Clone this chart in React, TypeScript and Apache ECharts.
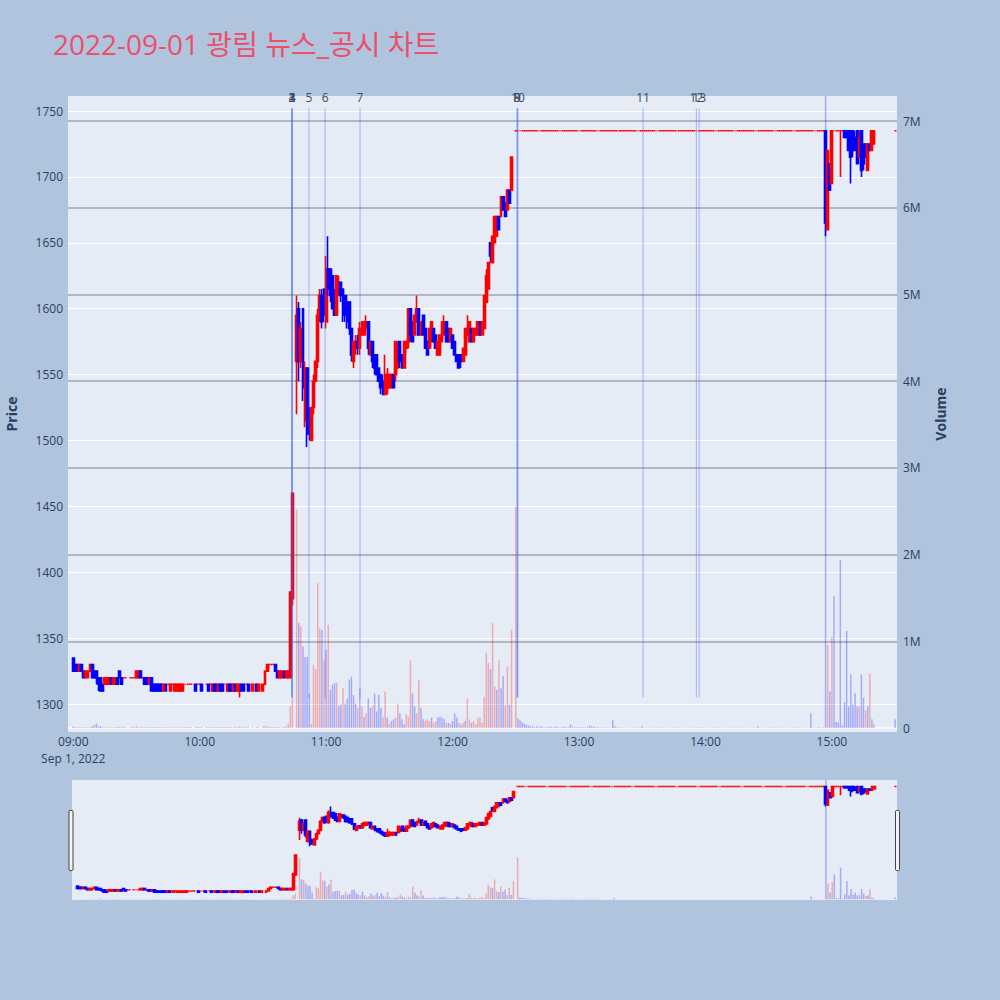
import React, { useEffect, useRef } from "react";
import * as echarts from "echarts";

type Row = [string, number, number, number, number, number, string];
// [time, open, high, low, close, volume (millions of shares), volume colour u/d]

const TITLE = "2022-09-01 광림 뉴스_공시 차트";
const DATE_LABEL = "Sep 1, 2022";
const TIME_TICKS = ["09:00", "10:00", "11:00", "12:00", "13:00", "14:00", "15:00"];
const PRICE_TICKS = [1300, 1350, 1400, 1450, 1500, 1550, 1600, 1650, 1700, 1750];
const VOLUME_TICKS = [0, 1, 2, 3, 4, 5, 6, 7];

const MORNING: Row[] = [
  ["09:00", 1335, 1335, 1325, 1325, 0.02, "d"],
  ["09:01", 1330, 1330, 1325, 1325, 0.01, "d"],
  ["09:02", 1330, 1330, 1325, 1325, 0.01, "d"],
  ["09:03", 1325, 1330, 1325, 1330, 0.01, "u"],
  ["09:04", 1330, 1330, 1325, 1325, 0.01, "d"],
  ["09:05", 1325, 1325, 1320, 1320, 0.01, "d"],
  ["09:06", 1320, 1325, 1320, 1325, 0.01, "u"],
  ["09:07", 1320, 1325, 1320, 1325, 0.01, "u"],
  ["09:08", 1325, 1330, 1325, 1330, 0.01, "u"],
  ["09:09", 1330, 1330, 1320, 1320, 0.02, "d"],
  ["09:10", 1325, 1325, 1320, 1320, 0.03, "d"],
  ["09:11", 1325, 1325, 1315, 1320, 0.05, "d"],
  ["09:12", 1320, 1320, 1310, 1315, 0.02, "d"],
  ["09:13", 1320, 1320, 1310, 1310, 0.02, "d"],
  ["09:14", 1315, 1315, 1310, 1310, 0.01, "d"],
  ["09:15", 1315, 1320, 1315, 1320, 0.01, "u"],
  ["09:16", 1315, 1320, 1315, 1320, 0.01, "u"],
  ["09:17", 1315, 1320, 1315, 1320, 0.01, "u"],
  ["09:18", 1320, 1320, 1315, 1315, 0.01, "d"],
  ["09:19", 1315, 1320, 1315, 1320, 0.01, "u"],
  ["09:20", 1315, 1320, 1315, 1320, 0.01, "u"],
  ["09:21", 1320, 1320, 1315, 1315, 0.01, "d"],
  ["09:22", 1325, 1325, 1320, 1320, 0.01, "d"],
  ["09:23", 1320, 1320, 1315, 1315, 0.01, "d"],
  ["09:24", 1320, 1320, 1320, 1320, 0.01, "d"],
  ["09:25", 1320, 1320, 1320, 1320, 0.01, "d"],
  ["09:27", 1320, 1320, 1320, 1320, 0.01, "d"],
  ["09:28", 1320, 1320, 1320, 1320, 0.01, "d"],
  ["09:29", 1320, 1320, 1320, 1320, 0.01, "d"],
  ["09:30", 1320, 1325, 1320, 1325, 0.02, "u"],
  ["09:31", 1320, 1325, 1320, 1325, 0.01, "u"],
  ["09:32", 1325, 1325, 1320, 1320, 0.01, "d"],
  ["09:33", 1320, 1320, 1320, 1320, 0.01, "d"],
  ["09:34", 1320, 1320, 1315, 1315, 0.01, "d"],
  ["09:35", 1320, 1320, 1315, 1315, 0.01, "d"],
  ["09:36", 1315, 1320, 1315, 1320, 0.01, "u"],
  ["09:37", 1320, 1320, 1310, 1310, 0.01, "d"],
  ["09:38", 1315, 1315, 1310, 1310, 0.01, "d"],
  ["09:39", 1315, 1315, 1310, 1310, 0.01, "d"],
  ["09:40", 1315, 1315, 1310, 1310, 0.01, "d"],
  ["09:41", 1315, 1315, 1310, 1310, 0.01, "d"],
  ["09:42", 1315, 1315, 1310, 1310, 0.01, "d"],
  ["09:43", 1310, 1315, 1310, 1315, 0.01, "u"],
  ["09:44", 1315, 1315, 1310, 1310, 0.01, "d"],
  ["09:45", 1315, 1315, 1315, 1315, 0.01, "d"],
  ["09:46", 1310, 1315, 1310, 1315, 0.01, "u"],
  ["09:47", 1315, 1315, 1315, 1315, 0.01, "u"],
  ["09:48", 1310, 1315, 1310, 1315, 0.01, "u"],
  ["09:49", 1310, 1315, 1310, 1315, 0.01, "u"],
  ["09:50", 1310, 1315, 1310, 1315, 0.01, "u"],
  ["09:51", 1310, 1315, 1310, 1315, 0.01, "u"],
  ["09:52", 1310, 1315, 1310, 1315, 0.01, "u"],
  ["09:53", 1315, 1315, 1315, 1315, 0.01, "d"],
  ["09:54", 1315, 1315, 1315, 1315, 0.01, "d"],
  ["09:55", 1315, 1315, 1315, 1315, 0.01, "d"],
  ["09:56", 1315, 1315, 1315, 1315, 0.01, "d"],
  ["09:58", 1315, 1315, 1310, 1310, 0.01, "d"],
  ["09:59", 1315, 1315, 1315, 1315, 0.01, "d"],
  ["10:00", 1315, 1315, 1315, 1315, 0.01, "d"],
  ["10:01", 1315, 1315, 1310, 1310, 0.01, "d"],
  ["10:03", 1315, 1315, 1315, 1315, 0.01, "d"],
  ["10:04", 1315, 1315, 1310, 1310, 0.01, "d"],
  ["10:05", 1315, 1315, 1315, 1315, 0.01, "d"],
  ["10:06", 1310, 1315, 1310, 1315, 0.01, "u"],
  ["10:07", 1315, 1315, 1310, 1310, 0.01, "d"],
  ["10:08", 1315, 1315, 1310, 1310, 0.01, "d"],
  ["10:09", 1310, 1315, 1310, 1315, 0.01, "u"],
  ["10:10", 1315, 1315, 1310, 1310, 0.01, "d"],
  ["10:11", 1315, 1315, 1310, 1310, 0.01, "d"],
  ["10:12", 1315, 1315, 1315, 1315, 0.01, "d"],
  ["10:13", 1310, 1315, 1310, 1315, 0.01, "u"],
  ["10:14", 1315, 1315, 1310, 1310, 0.01, "d"],
  ["10:15", 1315, 1315, 1310, 1310, 0.01, "d"],
  ["10:16", 1310, 1315, 1310, 1315, 0.01, "u"],
  ["10:17", 1315, 1315, 1310, 1310, 0.01, "d"],
  ["10:18", 1310, 1315, 1310, 1315, 0.01, "u"],
  ["10:19", 1310, 1315, 1305, 1315, 0.02, "u"],
  ["10:20", 1315, 1315, 1310, 1310, 0.01, "d"],
  ["10:21", 1315, 1315, 1310, 1310, 0.01, "d"],
  ["10:22", 1315, 1315, 1315, 1315, 0.01, "d"],
  ["10:23", 1315, 1315, 1310, 1310, 0.01, "d"],
  ["10:25", 1310, 1315, 1310, 1315, 0.01, "u"],
  ["10:27", 1315, 1315, 1310, 1310, 0.01, "d"],
  ["10:28", 1310, 1315, 1310, 1315, 0.01, "u"],
  ["10:30", 1310, 1315, 1310, 1315, 0.02, "u"],
  ["10:31", 1315, 1325, 1315, 1325, 0.02, "u"],
  ["10:32", 1325, 1330, 1325, 1330, 0.02, "u"],
  ["10:33", 1330, 1330, 1330, 1330, 0.01, "d"],
  ["10:34", 1330, 1330, 1330, 1330, 0.01, "d"],
  ["10:35", 1330, 1330, 1330, 1330, 0.01, "d"],
  ["10:36", 1330, 1330, 1325, 1325, 0.01, "d"],
  ["10:37", 1325, 1325, 1320, 1320, 0.01, "d"],
  ["10:38", 1320, 1325, 1320, 1325, 0.01, "u"],
  ["10:39", 1320, 1325, 1320, 1325, 0.01, "u"],
  ["10:40", 1325, 1325, 1320, 1320, 0.01, "d"],
  ["10:41", 1320, 1325, 1320, 1325, 0.02, "u"],
];

const SURGE: Row[] = [
  ["10:42", 1320, 1325, 1320, 1325, 0.05, "u"],
  ["10:43", 1320, 1385, 1320, 1385, 0.25, "u"],
  ["10:44", 1380, 1460, 1375, 1460, 0.35, "u"],
  ["10:46", 1560, 1610, 1520, 1595, 2.52, "u"],
  ["10:47", 1600, 1605, 1545, 1560, 1.21, "d"],
  ["10:48", 1560, 1590, 1555, 1585, 1.17, "u"],
  ["10:49", 1600, 1600, 1530, 1540, 0.94, "d"],
  ["10:50", 1515, 1560, 1510, 1555, 0.82, "d"],
  ["10:51", 1555, 1555, 1495, 1505, 0.82, "d"],
  ["10:52", 1520, 1525, 1500, 1505, 0.4, "d"],
  ["10:53", 1500, 1525, 1500, 1525, 0.05, "u"],
  ["10:54", 1525, 1550, 1520, 1545, 0.73, "u"],
  ["10:55", 1545, 1560, 1545, 1560, 0.68, "u"],
  ["10:56", 1560, 1600, 1555, 1595, 1.67, "u"],
  ["10:57", 1595, 1615, 1590, 1610, 1.15, "u"],
  ["10:58", 1610, 1615, 1585, 1590, 1.13, "d"],
  ["10:59", 1615, 1615, 1590, 1595, 0.78, "u"],
  ["11:00", 1590, 1640, 1585, 1630, 0.9, "d"],
  ["11:01", 1630, 1655, 1610, 1615, 1.19, "u"],
  ["11:02", 1630, 1630, 1605, 1610, 0.44, "d"],
  ["11:03", 1625, 1625, 1600, 1600, 0.5, "d"],
  ["11:04", 1610, 1615, 1595, 1595, 0.52, "d"],
  ["11:05", 1595, 1625, 1595, 1625, 0.52, "u"],
  ["11:06", 1615, 1625, 1610, 1620, 0.25, "d"],
  ["11:07", 1620, 1620, 1605, 1610, 0.27, "d"],
  ["11:08", 1615, 1615, 1590, 1595, 0.46, "u"],
  ["11:09", 1610, 1610, 1590, 1595, 0.28, "d"],
  ["11:10", 1605, 1605, 1585, 1590, 0.34, "d"],
  ["11:11", 1605, 1605, 1580, 1585, 0.56, "d"],
  ["11:12", 1585, 1585, 1560, 1565, 0.59, "d"],
  ["11:13", 1560, 1575, 1555, 1575, 0.38, "d"],
  ["11:14", 1570, 1580, 1565, 1575, 0.28, "d"],
  ["11:15", 1575, 1580, 1565, 1570, 0.23, "u"],
  ["11:16", 1570, 1590, 1565, 1585, 0.46, "d"],
  ["11:17", 1580, 1590, 1580, 1590, 0.25, "u"],
  ["11:18", 1580, 1590, 1580, 1590, 0.13, "d"],
  ["11:19", 1585, 1595, 1585, 1590, 0.17, "u"],
  ["11:20", 1590, 1590, 1565, 1570, 0.34, "d"],
  ["11:21", 1565, 1575, 1565, 1575, 0.23, "d"],
  ["11:22", 1575, 1575, 1555, 1560, 0.25, "u"],
  ["11:23", 1565, 1565, 1550, 1555, 0.4, "d"],
  ["11:24", 1565, 1565, 1550, 1550, 0.19, "d"],
  ["11:25", 1555, 1555, 1545, 1545, 0.38, "d"],
  ["11:26", 1550, 1550, 1535, 1540, 0.23, "d"],
  ["11:27", 1545, 1550, 1535, 1535, 0.13, "u"],
  ["11:28", 1535, 1565, 1535, 1550, 0.42, "u"],
  ["11:29", 1540, 1555, 1535, 1550, 0.12, "d"],
  ["11:30", 1540, 1550, 1540, 1550, 0.05, "u"],
  ["11:31", 1540, 1550, 1540, 1550, 0.08, "d"],
  ["11:32", 1550, 1550, 1540, 1540, 0.1, "d"],
  ["11:33", 1550, 1575, 1545, 1575, 0.12, "u"],
  ["11:34", 1555, 1575, 1555, 1570, 0.28, "u"],
  ["11:35", 1575, 1575, 1555, 1560, 0.17, "d"],
  ["11:36", 1565, 1565, 1555, 1555, 0.1, "d"],
  ["11:37", 1555, 1575, 1555, 1575, 0.04, "d"],
  ["11:38", 1570, 1575, 1565, 1575, 0.16, "u"],
  ["11:39", 1575, 1600, 1570, 1600, 0.13, "u"],
  ["11:40", 1600, 1600, 1575, 1580, 0.78, "u"],
  ["11:41", 1590, 1590, 1575, 1575, 0.4, "d"],
  ["11:42", 1580, 1595, 1580, 1595, 0.25, "d"],
  ["11:43", 1590, 1610, 1590, 1600, 0.17, "u"],
  ["11:44", 1600, 1600, 1580, 1580, 0.55, "u"],
  ["11:45", 1580, 1590, 1580, 1590, 0.23, "d"],
  ["11:46", 1595, 1595, 1580, 1580, 0.1, "d"],
  ["11:47", 1585, 1585, 1570, 1570, 0.08, "u"],
  ["11:48", 1575, 1575, 1565, 1565, 0.1, "u"],
  ["11:49", 1570, 1585, 1570, 1585, 0.08, "u"],
  ["11:50", 1575, 1590, 1575, 1590, 0.12, "d"],
  ["11:51", 1585, 1585, 1575, 1575, 0.06, "u"],
  ["11:52", 1580, 1580, 1570, 1570, 0.08, "u"],
  ["11:53", 1565, 1575, 1565, 1575, 0.12, "d"],
  ["11:54", 1565, 1580, 1565, 1580, 0.13, "d"],
  ["11:55", 1575, 1590, 1575, 1590, 0.12, "d"],
  ["11:56", 1580, 1595, 1580, 1590, 0.1, "d"],
  ["11:57", 1590, 1590, 1575, 1575, 0.06, "u"],
  ["11:58", 1585, 1585, 1575, 1575, 0.06, "d"],
  ["11:59", 1575, 1585, 1575, 1585, 0.05, "u"],
  ["12:00", 1580, 1580, 1570, 1570, 0.08, "d"],
  ["12:01", 1575, 1575, 1565, 1565, 0.17, "d"],
  ["12:02", 1565, 1565, 1560, 1560, 0.12, "d"],
  ["12:03", 1565, 1565, 1555, 1555, 0.06, "u"],
  ["12:04", 1565, 1565, 1555, 1560, 0.04, "d"],
  ["12:05", 1560, 1570, 1560, 1570, 0.06, "u"],
  ["12:06", 1565, 1585, 1565, 1585, 0.08, "d"],
  ["12:07", 1580, 1595, 1580, 1585, 0.34, "u"],
  ["12:08", 1575, 1590, 1575, 1590, 0.1, "u"],
  ["12:09", 1585, 1585, 1575, 1575, 0.06, "d"],
  ["12:10", 1575, 1585, 1575, 1585, 0.08, "u"],
  ["12:11", 1580, 1585, 1580, 1585, 0.04, "u"],
  ["12:12", 1580, 1590, 1580, 1590, 0.12, "u"],
  ["12:13", 1590, 1590, 1580, 1580, 0.12, "u"],
  ["12:14", 1580, 1590, 1580, 1590, 0.06, "u"],
  ["12:15", 1585, 1610, 1585, 1610, 0.36, "u"],
  ["12:16", 1605, 1630, 1605, 1625, 0.87, "u"],
  ["12:17", 1615, 1635, 1615, 1635, 0.75, "u"],
  ["12:18", 1650, 1650, 1635, 1640, 0.68, "d"],
  ["12:19", 1635, 1655, 1635, 1655, 1.21, "u"],
  ["12:20", 1650, 1670, 1650, 1670, 0.48, "u"],
  ["12:21", 1655, 1670, 1655, 1670, 0.44, "d"],
  ["12:22", 1670, 1670, 1660, 1660, 0.78, "u"],
  ["12:23", 1670, 1685, 1670, 1685, 0.46, "d"],
  ["12:24", 1685, 1685, 1675, 1675, 0.6, "d"],
  ["12:25", 1680, 1680, 1670, 1670, 0.26, "u"],
  ["12:26", 1675, 1690, 1675, 1690, 0.71, "u"],
  ["12:27", 1690, 1690, 1680, 1680, 0.27, "d"],
  ["12:28", 1690, 1715, 1690, 1715, 1.13, "u"],
  ["12:30", 1735, 1735, 1735, 1735, 2.55, "u"],
];

// upper-limit period: every minute traded flat at the limit price
const LIMIT_PRICE = 1735;
const LIMIT_START = "12:31";
const LIMIT_VOLUME = [
  0.11, 0.09, 0.07, 0.05, 0.04, 0.03, 0.02, 0.02, 0.01, 0.02,
  0.01, 0.02, 0.01, 0.01, 0.01, 0.02, 0.01, 0.01, 0.02, 0.01,
  0.01, 0.01, 0.02, 0.01, 0.01, 0.04, 0.01, 0.01, 0.01, 0.01,
  0.01, 0.01, 0.01, 0.01, 0.03, 0.02, 0.02, 0.01, 0.01, 0.01,
  0.005, 0.005, 0.01, 0.005, 0.005, 0.09, 0.02, 0.01, 0.005, 0.005,
  0.005, 0.005, 0.005, 0.005, 0.005, 0.005, 0.005, 0.005, 0.005, 0.02,
  0.005, 0.005, 0.005, 0.005, 0.005, 0.005, 0.005, 0.005, 0.005, 0.005,
  0.005, 0.005, 0.005, 0.005, 0.005, 0.005, 0.005, 0.005, 0.005, 0.005,
  0.005, 0.005, 0.005, 0.005, 0.005, 0.005, 0.01, 0.005, 0.005, 0.005,
  0.005, 0.005, 0.005, 0.005, 0.005, 0.005, 0.005, 0.005, 0.005, 0.005,
  0.005, 0.005, 0.005, 0.005, 0.005, 0.005, 0.005, 0.005, 0.005, 0.005,
  0.005, 0.005, 0.005, 0.005, 0.02, 0.005, 0.005, 0.005, 0.005, 0.005,
  0.005, 0.005, 0.005, 0.005, 0.005, 0.005, 0.005, 0.005, 0.005, 0.005,
  0.005, 0.005, 0.005, 0.005, 0.005, 0.005, 0.005, 0.005, 0.005, 0.17,
  0.005, 0.005, 0.005, 0.01, 0.005, 0.01,
];

const CLOSING: Row[] = [
  ["14:57", 1735, 1735, 1655, 1665, 9.0, "d"],
  ["14:58", 1660, 1720, 1660, 1720, 0.96, "u"],
  ["14:59", 1710, 1710, 1690, 1690, 0.42, "d"],
  ["15:00", 1695, 1735, 1695, 1735, 1.05, "u"],
  ["15:01", 1735, 1735, 1735, 1735, 1.52, "d"],
  ["15:02", 1735, 1735, 1735, 1735, 0.07, "d"],
  ["15:03", 1735, 1735, 1735, 1735, 0.06, "d"],
  ["15:04", 1735, 1735, 1700, 1735, 1.94, "d"],
  ["15:05", 1735, 1735, 1735, 1735, 0.03, "d"],
  ["15:06", 1735, 1735, 1730, 1730, 0.3, "d"],
  ["15:07", 1735, 1735, 1730, 1730, 1.12, "d"],
  ["15:08", 1735, 1735, 1720, 1720, 0.25, "d"],
  ["15:09", 1735, 1735, 1695, 1715, 0.62, "d"],
  ["15:10", 1735, 1735, 1715, 1720, 0.27, "d"],
  ["15:11", 1730, 1735, 1720, 1720, 0.4, "d"],
  ["15:12", 1735, 1735, 1710, 1710, 0.25, "d"],
  ["15:13", 1715, 1735, 1715, 1730, 0.25, "u"],
  ["15:14", 1735, 1735, 1700, 1705, 0.62, "d"],
  ["15:15", 1725, 1725, 1705, 1710, 0.35, "d"],
  ["15:16", 1725, 1725, 1715, 1715, 0.2, "u"],
  ["15:17", 1705, 1725, 1705, 1725, 0.25, "d"],
  ["15:18", 1725, 1725, 1720, 1720, 0.63, "u"],
  ["15:19", 1720, 1735, 1720, 1735, 0.1, "d"],
  ["15:20", 1725, 1735, 1725, 1735, 0.05, "u"],
  ["15:30", 1735, 1735, 1735, 1735, 0.1, "d"],
];

const NEWS_LABELS = ["1", "2", "3", "4", "5", "6", "7", "8", "9", "10", "11", "12", "13"];
const NEWS_TIMES = [
  "10:43:45", "10:43:48", "10:43:50", "10:43:52", "10:51:50", "10:59:30", "11:16:05",
  "12:30:30", "12:30:50", "12:31:00", "13:30:25", "13:55:40", "13:57:00",
];
const NEWS_LOW = 1305;
const NEWS_HIGH = 1752;

const X_MIN = -2.5;
const X_MAX = 390.9;
const P_MIN = 1278.8;
const P_MAX = 1761.4;
const V_MIN = -0.046;
const V_MAX = 7.29;

const FONT = '"Open Sans", "Noto Sans CJK KR", sans-serif';
const AXIS_TEXT = "#2a3f5f";
const UP = "#ff0000";
const DOWN = "#0000ff";
const UP_VOL = "rgba(255,0,0,0.28)";
const DOWN_VOL = "rgba(0,0,255,0.28)";

const toMin = (t: string) => {
  const [h, m, s] = t.split(":").map(Number);
  return (h - 9) * 60 + m + (s || 0) / 60;
};
const fromMin = (x: number) => {
  const h = 9 + Math.floor(x / 60);
  const m = Math.round(x - Math.floor(x / 60) * 60);
  return `${String(h).padStart(2, "0")}:${String(m).padStart(2, "0")}`;
};

export default function App() {
  const ref = useRef<HTMLDivElement>(null);
  useEffect(() => {
    document.body.style.margin = "0";
    document.body.style.background = "#B0C4DE";
    const chart = echarts.init(ref.current!, undefined, { renderer: "svg" });

    const limitStart = toMin(LIMIT_START);
    const limitRows: Row[] = LIMIT_VOLUME.map((v, i) => [
      fromMin(limitStart + i), LIMIT_PRICE, LIMIT_PRICE, LIMIT_PRICE, LIMIT_PRICE, v, "d",
    ]);
    const rows: Row[] = [...MORNING, ...SURGE, ...limitRows, ...CLOSING];
    const candles = rows.map((r) => [toMin(r[0]), r[1], r[4], r[3], r[2]]);
    const vols = rows.map((r) => ({
      value: [toMin(r[0]), r[5]],
      itemStyle: { color: r[6] === "u" ? UP_VOL : DOWN_VOL },
    }));
    const tickMins = TIME_TICKS.map(toMin);
    const news = NEWS_TIMES.map((t, i) => [toMin(t), NEWS_HIGH, NEWS_LOW, i]);

    const candleStyle = {
      color: UP, color0: DOWN, borderColor: UP, borderColor0: DOWN,
      borderColorDoji: UP, borderWidth: 1.6,
    };
    const labelStyle = { color: AXIS_TEXT, fontSize: 12, fontFamily: FONT };

    chart.setOption({
      animation: false,
      backgroundColor: "#B0C4DE",
      title: {
        text: TITLE, left: 48, top: 25,
        textStyle: { color: "#EB4F6A", fontSize: 28, fontWeight: "normal", fontFamily: FONT },
      },
      grid: [
        {
          left: 68, top: 96, width: 829, height: 636, show: true, backgroundColor: "#E5ECF6",
          borderWidth: 0, containLabel: false, outerBoundsMode: "none",
        },
        {
          left: 72, top: 780, width: 825, height: 120, show: true, backgroundColor: "#E5ECF6",
          borderWidth: 0, containLabel: false, outerBoundsMode: "none",
        },
      ],
      xAxis: [
        {
          type: "value", gridIndex: 0, min: X_MIN, max: X_MAX,
          axisLine: { show: false },
          axisTick: { show: false, customValues: tickMins },
          splitLine: { show: false },
          axisLabel: {
            ...labelStyle, customValues: tickMins, margin: 1, lineHeight: 17,
            formatter: (v: number) => {
              const i = tickMins.findIndex((t) => Math.abs(t - v) < 1e-6);
              const s = i >= 0 ? TIME_TICKS[i] : fromMin(v);
              return i === 0 ? `${s}\n${DATE_LABEL}` : s;
            },
          },
        },
        { type: "value", gridIndex: 1, min: X_MIN, max: X_MAX, show: false, splitLine: { show: false } },
      ],
      yAxis: [
        {
          type: "value", gridIndex: 0, min: P_MIN, max: P_MAX,
          name: "Price", nameLocation: "middle", nameRotate: 90, nameGap: 50,
          nameTextStyle: { color: AXIS_TEXT, fontSize: 14, fontWeight: "bold", fontFamily: FONT },
          axisLine: { show: false },
          axisTick: { show: false, customValues: PRICE_TICKS },
          axisLabel: { ...labelStyle, customValues: PRICE_TICKS, margin: 5, formatter: (v: number) => String(v) },
          splitLine: { show: true, lineStyle: { color: "#ffffff", width: 1 } },
        },
        {
          type: "value", gridIndex: 0, position: "right", min: V_MIN, max: V_MAX,
          name: "Volume", nameLocation: "middle", nameRotate: 90, nameGap: 36,
          nameTextStyle: { color: AXIS_TEXT, fontSize: 14, fontWeight: "bold", fontFamily: FONT },
          axisLine: { show: false },
          axisTick: { show: false, customValues: VOLUME_TICKS },
          axisLabel: {
            ...labelStyle, customValues: VOLUME_TICKS, margin: 6,
            formatter: (v: number) => (v === 0 ? "0" : `${v}M`),
          },
          splitLine: {
            show: true,
            lineStyle: { color: ["#ffffff", "#a2a5ab", "#a2a5ab", "#a2a5ab", "#a2a5ab", "#a2a5ab", "#a2a5ab", "#a2a5ab"], width: 1.5 },
          },
        },
        { type: "value", gridIndex: 1, min: P_MIN, max: P_MAX, show: false, splitLine: { show: false } },
        { type: "value", gridIndex: 1, min: V_MIN, max: V_MAX, show: false, splitLine: { show: false } },
      ],
      series: [
        {
          type: "bar", xAxisIndex: 0, yAxisIndex: 1, data: vols, barWidth: 1.5, silent: true,
        },
        {
          type: "candlestick", xAxisIndex: 0, yAxisIndex: 0, data: candles,
          encode: { x: 0, y: [1, 2, 3, 4] }, barWidth: 2.4, itemStyle: candleStyle, silent: true,
        },
        {
          type: "custom", xAxisIndex: 0, yAxisIndex: 0, data: news, silent: true, z: 5,
          encode: { x: 0, y: [1, 2] },
          renderItem: (params: any, api: any) => {
            const x = api.value(0);
            const top = api.coord([x, api.value(1)]);
            const bot = api.coord([x, api.value(2)]);
            const idx = api.value(3);
            return {
              type: "group",
              children: [
                {
                  type: "line",
                  shape: { x1: top[0], y1: top[1], x2: bot[0], y2: bot[1] },
                  style: { stroke: "rgba(60,95,240,0.42)", lineWidth: 1 },
                },
                {
                  type: "text", x: top[0], y: top[1] - 11,
                  style: {
                    text: NEWS_LABELS[idx], fill: "#3a4b68", font: `12px ${FONT}`,
                    align: "center", verticalAlign: "middle",
                    textAlign: "center", textVerticalAlign: "middle",
                  },
                },
              ],
            };
          },
        },
        {
          type: "bar", xAxisIndex: 1, yAxisIndex: 3, data: vols, barWidth: 1.5, silent: true,
        },
        {
          type: "candlestick", xAxisIndex: 1, yAxisIndex: 2, data: candles,
          encode: { x: 0, y: [1, 2, 3, 4] }, barWidth: 2.4, itemStyle: candleStyle, silent: true,
        },
      ],
      graphic: [
        { type: "rect", shape: { x: 69, y: 810.5, width: 4, height: 60, r: 1 }, style: { fill: "#f4f4f4", stroke: "#444", lineWidth: 1 } },
        { type: "rect", shape: { x: 895.5, y: 810.5, width: 4, height: 60, r: 1 }, style: { fill: "#f4f4f4", stroke: "#444", lineWidth: 1 } },
      ],
    });
    return () => chart.dispose();
  }, []);
  return <div ref={ref} style={{ width: 1000, height: 1000 }} />;
}
